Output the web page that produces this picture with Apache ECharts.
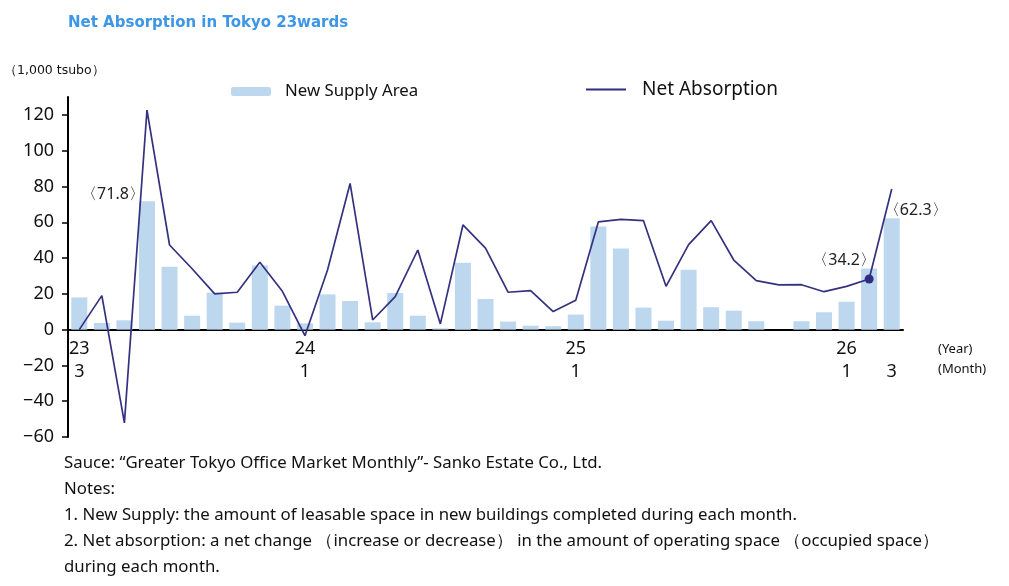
<!DOCTYPE html>
<html>
<head>
<meta charset="utf-8">
<script src="https://cdn.jsdelivr.net/npm/echarts@6/dist/echarts.min.js"></script>
<style>
  html, body { margin: 0; padding: 0; background: #fff; }
  #chart { width: 1009px; height: 586px; }
</style>
</head>
<body>
<div id="chart"></div>
<script>
// months from 2023/3 to 2026/3, only a few carry a label
var months = ['23\n3', '', '', '', '', '', '', '', '', '',
    '24\n1', '', '', '', '', '', '', '', '', '', '', '',
    '25\n1', '', '', '', '', '', '', '', '', '', '', '',
    '26\n1', '', '\n3'];

// new supply area (1,000 tsubo)
var supply = [18.0, 3.7, 5.2, 71.8, 35.2, 7.8, 20.7, 3.9, 35.8, 13.4,
    3.5, 19.7, 16.0, 4.1, 20.5, 7.8, 0.7, 37.4, 17.1, 4.5,
    2.2, 1.9, 8.4, 57.7, 45.4, 12.3, 5.0, 33.5, 12.5, 10.6,
    4.7, 0, 4.7, 9.7, 15.6, 34.2, 62.3];

// net absorption (1,000 tsubo)
var absorption = [0, 19.0, -52.1, 122.7, 47.3, 34.0, 20.0, 20.9, 37.6, 21.4,
    -3.4, 33.3, 81.7, 5.4, 18.4, 44.5, 3.2, 58.5, 45.6, 20.9,
    21.8, 10.1, 16.4, 60.2, 61.6, 60.9, 24.2, 47.5, 60.9, 38.9,
    27.4, 25.0, 25.1, 21.2, 24.2, 28.3, 78.6];

var yTicks = [-60, -40, -20, 0, 20, 40, 60, 80, 100, 120];

var notes = [
    'Sauce: \u201cGreater Tokyo Office Market Monthly\u201d- Sanko Estate Co., Ltd.',
    'Notes:',
    '1. New Supply: the amount of leasable space in new buildings completed during each month.',
    '2. Net absorption: a net change \uff08increase or decrease\uff09 in the amount of operating space \uff08occupied space\uff09',
    'during each month.'
];

// which bars get a 〈value〉 tag, and where it sits
var tagOffsets = { 3: [-34, 6], 35: [-25, 5], 36: [24, 5] };
var markedPoint = 35;

var myChart = echarts.init(document.getElementById('chart'));

var barData = supply.map(function (v, i) {
    if (tagOffsets[i]) {
        return {
            value: v,
            label: {
                show: true,
                position: 'top',
                offset: tagOffsets[i],
                formatter: '\u3008' + v.toFixed(1) + '\u3009',
                color: '#222',
                fontSize: 16,
                fontFamily: 'Noto Sans'
            }
        };
    }
    return v;
});

var lineData = absorption.map(function (v, i) {
    if (i === markedPoint) {
        return { value: v, symbol: 'circle', symbolSize: 9 };
    }
    return v;
});

var noteTexts = notes.map(function (t, i) {
    return {
        type: 'text',
        left: 64,
        top: 455 + i * 26,
        style: { text: t, fill: '#111', font: '16.8px "Noto Sans"' }
    };
});

var option = {
    animation: false,
    title: {
        text: 'Net Absorption in Tokyo 23wards',
        left: 63,
        top: 11,
        textStyle: { color: '#3d96e6', fontSize: 15, fontWeight: 'bold', fontFamily: 'DejaVu Sans' }
    },
    legend: [{
        data: ['New Supply Area'],
        left: 226,
        top: 78,
        itemWidth: 40,
        itemHeight: 9,
        textStyle: { fontSize: 16.8, color: '#111', fontFamily: 'Noto Sans', padding: [0, 0, 0, 9] }
    }, {
        data: ['Net Absorption'],
        left: 581,
        top: 75,
        icon: 'rect',
        itemWidth: 40,
        itemHeight: 2,
        textStyle: { fontSize: 19, color: '#111', fontFamily: 'Noto Sans', padding: [0, 0, 0, 11] }
    }],
    grid: { left: 68, right: 106, top: 97, bottom: 149 },
    xAxis: {
        type: 'category',
        data: months,
        position: 'bottom',
        offset: -107.4,
        axisTick: { show: false },
        axisLine: { onZero: false, lineStyle: { color: '#000', width: 2 } },
        axisLabel: {
            interval: 0,
            color: '#111',
            fontSize: 18,
            lineHeight: 23,
            margin: 8,
            fontFamily: 'Noto Sans'
        }
    },
    yAxis: {
        type: 'value',
        min: -60,
        max: 130,
        interval: 10,
        splitLine: { show: false },
        axisLine: { show: true, onZero: false, lineStyle: { color: '#000', width: 2 } },
        axisTick: { show: true, length: 6, customValues: yTicks, lineStyle: { color: '#000', width: 1.5 } },
        axisLabel: {
            customValues: yTicks,
            margin: 14,
            color: '#111',
            fontSize: 18,
            fontFamily: 'Noto Sans',
            formatter: function (v) { return String(v).replace('-', '\u2212'); }
        }
    },
    series: [{
        name: 'New Supply Area',
        type: 'bar',
        data: barData,
        barWidth: 16,
        itemStyle: { color: '#bdd7ee' },
        z: 2
    }, {
        name: 'Net Absorption',
        type: 'line',
        data: lineData,
        symbol: 'none',
        showSymbol: true,
        lineStyle: { color: '#34327f', width: 1.7 },
        itemStyle: { color: '#2e2c85' },
        z: 3
    }],
    graphic: [{
        type: 'text',
        left: 4,
        top: 64,
        style: { text: '\uff081,000 tsubo\uff09', fill: '#111', font: '12.5px "DejaVu Sans"' }
    }, {
        type: 'text',
        left: 938,
        top: 343,
        style: { text: '(Year)', fill: '#111', font: '13px "Noto Sans"' }
    }, {
        type: 'text',
        left: 938,
        top: 363,
        style: { text: '(Month)', fill: '#111', font: '13px "Noto Sans"' }
    }].concat(noteTexts)
};

myChart.setOption(option);
</script>
</body>
</html>
